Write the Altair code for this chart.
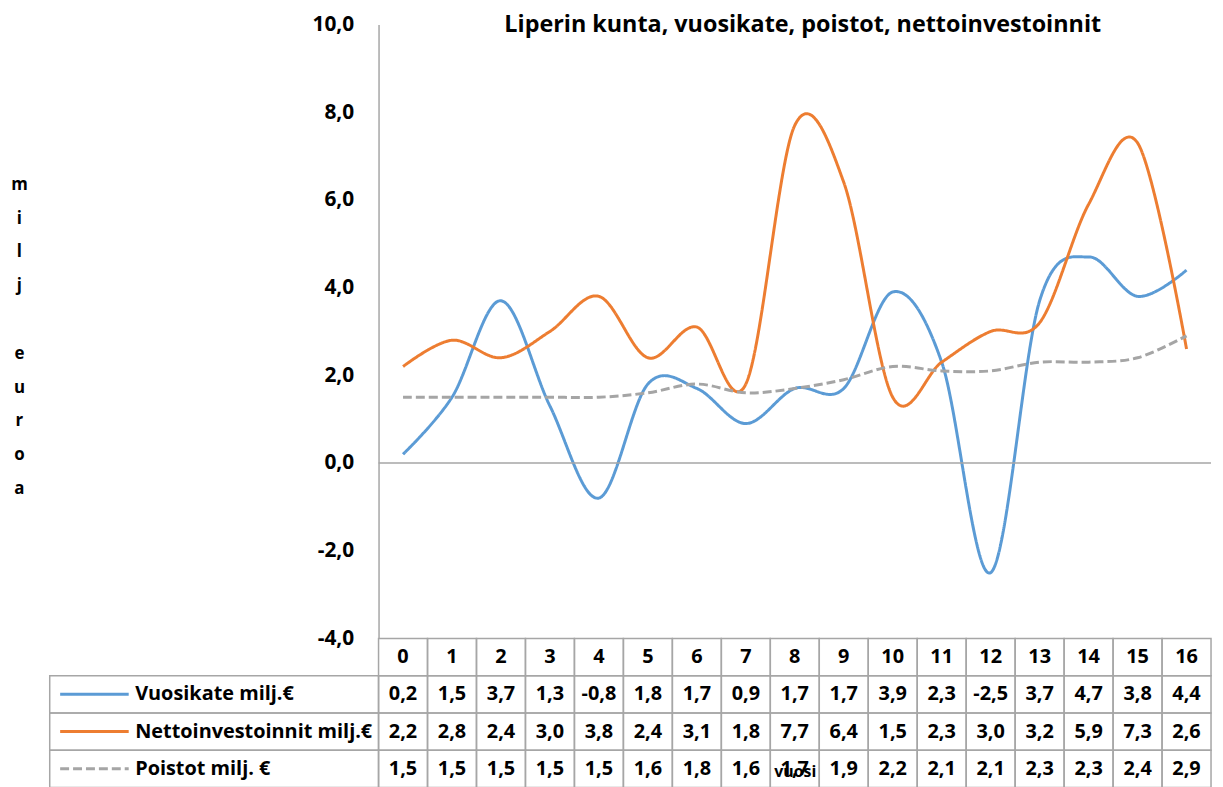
import altair as alt
import pandas as pd

# ---------------- data ----------------
years = [str(i) for i in range(17)]
series_names = ["Vuosikate milj.€", "Nettoinvestoinnit milj.€", "Poistot milj. €"]
vuosikate = [0.2, 1.5, 3.7, 1.3, -0.8, 1.8, 1.7, 0.9, 1.7, 1.7, 3.9, 2.3, -2.5, 3.7, 4.7, 3.8, 4.4]
nettoinvestoinnit = [2.2, 2.8, 2.4, 3.0, 3.8, 2.4, 3.1, 1.8, 7.7, 6.4, 1.5, 2.3, 3.0, 3.2, 5.9, 7.3, 2.6]
poistot = [1.5, 1.5, 1.5, 1.5, 1.5, 1.6, 1.8, 1.6, 1.7, 1.9, 2.2, 2.1, 2.1, 2.3, 2.3, 2.4, 2.9]
y_ticks = [-4, -2, 0, 2, 4, 6, 8, 10]
chart_title = "Liperin kunta, vuosikate, poistot, nettoinvestoinnit"
y_title_word1 = ["m", "i", "l", "j"]
y_title_word2 = ["e", "u", "r", "o", "a"]
x_title = "vuosi"
header_key = "hdr"

colors = ["#5B9BD5", "#ED7D31", "#A5A5A5"]
dashes = [[1, 0], [1, 0], [9, 4]]
FONT = "Open Sans"
GRID = "#A6A6A6"

# ---------------- tables ----------------
line_rows = []
for name, vals in zip(series_names, [vuosikate, nettoinvestoinnit, poistot]):
    for yr, v in zip(years, vals):
        line_rows.append({"year": yr, "series": name, "value": v})
df_lines = pd.DataFrame(line_rows)

cell_rows = [{"year": yr, "row": header_key, "label": yr} for yr in years]
for name, vals in zip(series_names, [vuosikate, nettoinvestoinnit, poistot]):
    for yr, v in zip(years, vals):
        cell_rows.append({"year": yr, "row": name, "label": f"{v:.1f}".replace(".", ",")})
df_cells = pd.DataFrame(cell_rows)

df_leg = pd.DataFrame({"lc": ["L"] * 3, "row": series_names, "series": series_names})
df_zero = pd.DataFrame({"zero": [0]})

# ---------------- geometry ----------------
W = 838
PLOT_H = 618
TABLE_H = 150
LEG_W = 331
ROW_ORDER = [header_key] + series_names
LINE_H = 34

y_lin = alt.Scale(domain=[-4, 10], range=[PLOT_H, 0], nice=False, zero=False)
y_band = alt.Scale(domain=ROW_ORDER, range=[PLOT_H, PLOT_H + TABLE_H],
                   paddingInner=0, paddingOuter=0)
x_point = alt.Scale(type="point", domain=years, padding=0.5)
x_band = alt.Scale(type="band", domain=years, paddingInner=0, paddingOuter=0)
x_leg = alt.Scale(type="band", domain=["L"], range=[-LEG_W, 0], paddingInner=0, paddingOuter=0)
color_scale = alt.Scale(domain=series_names, range=colors)
dash_scale = alt.Scale(domain=series_names, range=dashes)

title_style = dict(titleAngle=0, titleX=-362, titleAlign="center", titleBaseline="middle",
                   titleFont=FONT, titleFontSize=17, titleFontWeight="bold",
                   titleColor="black", titleLineHeight=LINE_H)

lines = alt.Chart(df_lines).mark_line(interpolate="cardinal", strokeWidth=3).encode(
    x=alt.X("year:O", scale=x_point, sort=years,
            axis=alt.Axis(title=x_title, labels=False, ticks=False, domain=False, grid=False,
                          titleFontSize=16, titleFont=FONT, titleFontWeight="bold",
                          titleColor="black", titleBaseline="middle", titleY=-16,
                          titlePadding=0, zindex=2)),
    y=alt.Y("value:Q", scale=y_lin,
            axis=alt.Axis(values=y_ticks, grid=False, ticks=False,
                          labelExpr="replace(replace(format(datum.value, '.1f'), '.', ','), '\u2212', '-')",
                          labelFont=FONT, labelFontSize=21, labelFontWeight="bold",
                          labelColor="black", labelPadding=25,
                          domainColor=GRID, domainWidth=1.5,
                          title=y_title_word1, titleY=161, **title_style)),
    color=alt.Color("series:N", scale=color_scale, legend=None),
    strokeDash=alt.StrokeDash("series:N", scale=dash_scale, legend=None),
)

zero = alt.Chart(df_zero).mark_rule(color=GRID, strokeWidth=1.5).encode(
    y=alt.Y("zero:Q", scale=y_lin,
            axis=alt.Axis(orient="left", labels=False, ticks=False, domain=False, grid=False,
                          title=y_title_word2, titleY=161 + 5 * LINE_H, **title_style))
)

cells = alt.Chart(df_cells).mark_rect(fill="white", fillOpacity=0, stroke=GRID, strokeWidth=1.5).encode(
    x=alt.X("year:O", scale=x_band, sort=years, axis=None),
    y=alt.Y("row:N", scale=y_band, sort=ROW_ORDER, axis=None),
)

cell_text = alt.Chart(df_cells).mark_text(font=FONT, fontSize=20, fontWeight="bold", color="black").encode(
    x=alt.X("year:O", scale=x_band, sort=years, axis=None),
    y=alt.Y("row:N", scale=y_band, sort=ROW_ORDER, axis=None),
    text="label:N",
)

leg_rect = alt.Chart(df_leg).mark_rect(fill="white", fillOpacity=0, stroke=GRID, strokeWidth=1.5).encode(
    x=alt.X("lc:N", scale=x_leg, axis=None),
    y=alt.Y("row:N", scale=y_band, sort=ROW_ORDER, axis=None),
)

leg_text = alt.Chart(df_leg).mark_text(font=FONT, fontSize=20, fontWeight="bold", color="black",
                                       align="left", dx=86).encode(
    x=alt.X("lc:N", scale=x_leg, axis=None, bandPosition=0),
    y=alt.Y("row:N", scale=y_band, sort=ROW_ORDER, axis=None),
    text="series:N",
)

leg_key = alt.Chart(df_leg).mark_point(shape="M-1,0L1,0", filled=False, size=4761,
                                       strokeWidth=3, opacity=1, xOffset=45).encode(
    x=alt.X("lc:N", scale=x_leg, axis=None, bandPosition=0),
    y=alt.Y("row:N", scale=y_band, sort=ROW_ORDER, axis=None),
    color=alt.Color("series:N", scale=color_scale, legend=None),
    strokeDash=alt.StrokeDash("series:N", scale=dash_scale, legend=None),
)

chart = alt.layer(lines, zero, cells, cell_text, leg_rect, leg_text, leg_key).resolve_scale(
    x="independent", y="independent"
).properties(
    width=W,
    height=PLOT_H + TABLE_H,
    title=alt.TitleParams(chart_title, font=FONT, fontSize=23.5, fontWeight="bold", color="black",
                          anchor="middle", frame="group", baseline="alphabetic", offset=-42, dx=8),
    autosize=alt.AutoSizeParams(type="none"),
    padding={"left": 373, "top": 14, "right": 4, "bottom": 0},
).configure_view(strokeWidth=0)

chart.save("out.html", embed_options={"renderer": "svg", "actions": False})
